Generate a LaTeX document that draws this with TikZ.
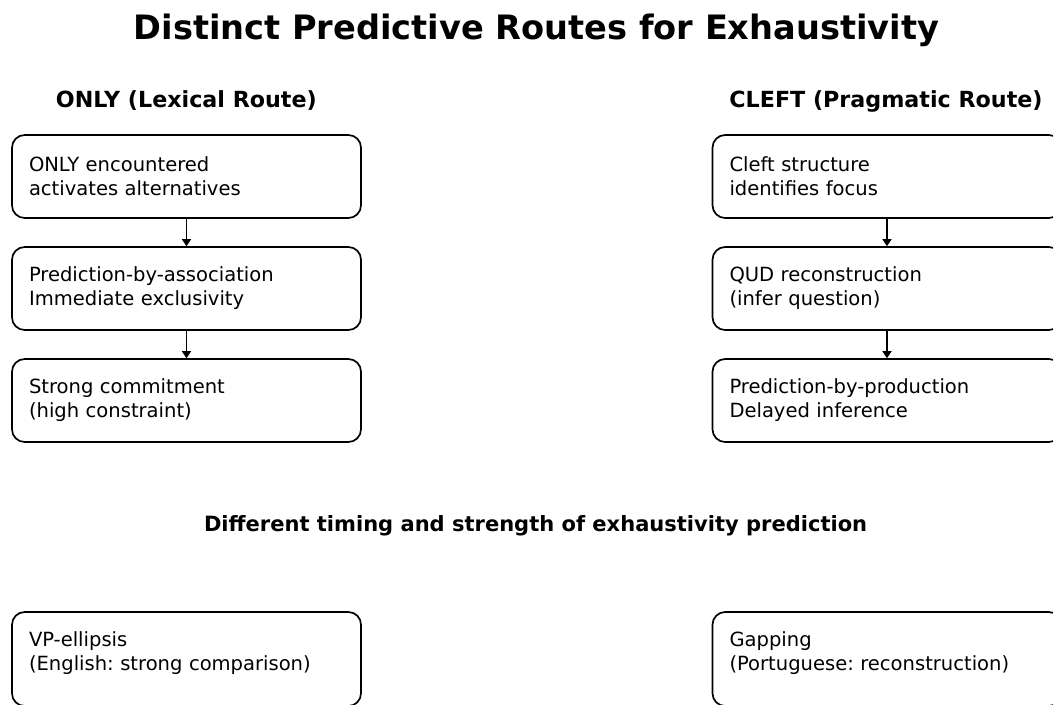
\documentclass[tikz,border=0pt]{standalone}
\usepackage{fontspec}
\setmainfont{DejaVu Sans}
\frenchspacing
\usepackage{tikz}
\usetikzlibrary{
  arrows.meta,
  positioning
}

\begin{document}
\begin{tikzpicture}[
    font=\fontsize{13.9}{17}\selectfont,
    box/.style={
      rectangle, rounded corners=9pt,
      minimum width=8.725cm, minimum height=2.075cm,
      text width=7.875cm, inner xsep=0.425cm,
      align=left, draw, line width=1.2pt
    },
    tallbox/.style={box, minimum height=2.35cm, text depth=28pt},
    head/.style={font=\fontsize{15.8}{19}\selectfont\bfseries, anchor=base},
  ]
    \useasboundingbox (0,0) rectangle (26.325,-17.6);

    \node[font=\fontsize{23.9}{28}\selectfont\bfseries, anchor=base] (title) at (13.41,-0.975)
      {Distinct Predictive Routes for Exhaustivity};

    % lexical route (left column)
    \node[head] (lexhead) at (4.66,-2.675) {ONLY (Lexical Route)};
    \node[box] (lex1) at (4.6625,-4.4125)  {ONLY encountered\\activates alternatives};
    \node[box] (lex2) at (4.6625,-7.2125)  {Prediction-by-association\\Immediate exclusivity};
    \node[box] (lex3) at (4.6625,-10.0125) {Strong commitment\\(high constraint)};

    % pragmatic route (right column)
    \node[head] (prahead) at (22.15,-2.675) {CLEFT (Pragmatic Route)};
    \node[box] (pra1) at (22.175,-4.4125)  {Cleft structure\\identifies focus};
    \node[box] (pra2) at (22.175,-7.2125)  {QUD reconstruction\\(infer question)};
    \node[box] (pra3) at (22.175,-10.0125) {Prediction-by-production\\Delayed inference};

    \node[head, font=\fontsize{14.95}{18}\selectfont\bfseries] (diff) at (13.39,-13.275)
      {Different timing and strength of exhaustivity prediction};

    % ellipsis examples
    \node[tallbox] (vpe) at (4.6625,-16.475) {VP-ellipsis\\(English: strong comparison)};
    \node[tallbox] (gap) at (22.175,-16.475) {Gapping\\(Portuguese: reconstruction)};

    \foreach \a/\b in {lex1/lex2,lex2/lex3,pra1/pra2,pra2/pra3}{
      \draw[-{Triangle[length=5pt,width=6.5pt]}, line width=0.9pt] (\a.south) -- (\b.north);
    }
  \end{tikzpicture}
\end{document}
